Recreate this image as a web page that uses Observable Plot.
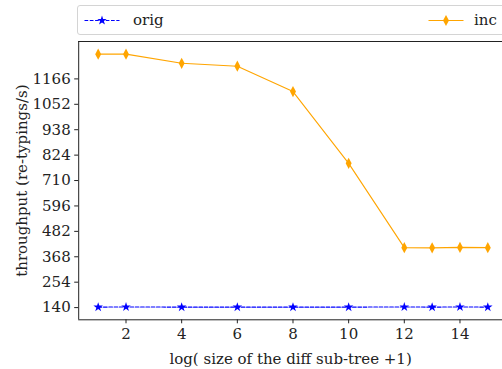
<!DOCTYPE html>
<html>
<head>
<meta charset="utf-8">
<script src="https://cdn.jsdelivr.net/npm/d3@7"></script>
<script src="https://cdn.jsdelivr.net/npm/@observablehq/plot@0.6"></script>
<style>
  html, body { margin: 0; padding: 0; background: #fff; overflow: hidden; }
  #chart { position: relative; width: 502px; height: 369px; overflow: hidden; }
  #chart > svg { position: absolute; left: 0; top: 0; }
  #chart svg text { font-family: "DejaVu Serif", serif !important; }
  .legend { position: absolute; left: 77px; top: 5px; width: 440px; height: 30px; box-sizing: border-box;
            border: 1px solid #d4d4d4; border-radius: 3px; background: #fff; }
  .legend .item { position: absolute; top: 0; height: 100%; }
  .legend .item svg { position: absolute; top: 0; left: 0; }
  .legend .item span { position: absolute; top: 5px; font-size: 15px; color: #222; white-space: nowrap; font-family: "DejaVu Serif", serif; }
</style>
</head>
<body>
<div id="chart"></div>
<script>
// x: log(size of the diff sub-tree + 1)
const sizes = [1, 2, 4, 6, 8, 10, 12, 13, 14, 15];
// throughput in re-typings per second
const origThroughput = [142, 143, 142, 142, 142, 142, 143, 142, 143, 142];
const incThroughput = [1277, 1277, 1236, 1223, 1109, 787, 409, 408, 410, 409];
const seriesNames = ["orig", "inc"];
const yTickValues = [140, 254, 368, 482, 596, 710, 824, 938, 1052, 1166];
const xTickValues = [2, 4, 6, 8, 10, 12, 14];

const blue = "#0000ff";
const orange = "#ffa500";

// thin diamond marker (taller than wide)
const thinDiamond = {
  draw(ctx, size) {
    const r = Math.sqrt(size / Math.PI);
    ctx.moveTo(0, -1.6 * r);
    ctx.lineTo(0.85 * r, 0);
    ctx.lineTo(0, 1.6 * r);
    ctx.lineTo(-0.85 * r, 0);
    ctx.closePath();
  }
};

const origRows = sizes.map((x, i) => ({x, y: origThroughput[i], series: seriesNames[0]}));
const incRows = sizes.map((x, i) => ({x, y: incThroughput[i], series: seriesNames[1]}));

// padded domains (5% each side of the data extent)
const xPad = (d3.max(sizes) - d3.min(sizes)) * 0.05;
const xDomain = [d3.min(sizes) - xPad, d3.max(sizes) + xPad];
const allY = origThroughput.concat(incThroughput);
const yPad = (d3.max(allY) - d3.min(allY)) * 0.05;
const yDomain = [d3.min(allY) - yPad, d3.max(allY) + yPad];

const chartW = 502, chartH = 369, frameLeft = 78.2, frameTop = 41, frameBottom = 319.3;
const frameRight = frameLeft + (xDomain[1] - xDomain[0]) * 27.83;

const plot = Plot.plot({
  width: chartW,
  height: chartH,
  marginLeft: frameLeft,
  marginTop: frameTop,
  marginBottom: chartH - frameBottom,
  marginRight: 0,
  style: {fontSize: "15px", color: "#222", background: "#fff"},
  x: {domain: xDomain, range: [frameLeft, frameRight]},
  y: {domain: yDomain},
  marks: [
    Plot.ruleY(yDomain, {stroke: "#222", strokeWidth: 1}),
    Plot.ruleX([xDomain[0]], {stroke: "#222", strokeWidth: 1}),
    Plot.axisY(yTickValues, {
      tickSize: 4, tickPadding: 4, fontSize: 15, tickFormat: d3.format("d"),
      label: "throughput (re-typings/s)", labelAnchor: "center", labelOffset: 62, labelArrow: "none"
    }),
    Plot.axisX(xTickValues, {
      tickSize: 4, tickPadding: 5, fontSize: 15, tickFormat: d3.format("d"),
      label: "log( size of the diff sub-tree +1)", labelAnchor: "center", labelOffset: 44, labelArrow: "none"
    }),
    Plot.line(origRows, {x: "x", y: "y", stroke: blue, strokeWidth: 1.1, strokeDasharray: "3.7,1.6"}),
    Plot.dot(origRows, {x: "x", y: "y", symbol: "star", r: 3, fill: blue, stroke: "none"}),
    Plot.line(incRows, {x: "x", y: "y", stroke: orange, strokeWidth: 1.1}),
    Plot.dot(incRows, {x: "x", y: "y", symbol: thinDiamond, r: 3.5, fill: orange, stroke: "none"})
  ]
});

const chart = document.getElementById("chart");
chart.appendChild(plot);

// legend across the top, two entries spread over the full width
const legend = d3.select(chart).append("div").attr("class", "legend");
const entries = [
  {name: seriesNames[0], color: blue, dash: "3.7,1.6", symbol: d3.symbolStar, size: Math.PI * 3 * 3, at: 6, gap: 49},
  {name: seriesNames[1], color: orange, dash: null, symbol: thinDiamond, size: Math.PI * 3.5 * 3.5, at: 350, gap: 46}
];
for (const e of entries) {
  const item = legend.append("div").attr("class", "item").style("left", e.at + "px");
  const s = item.append("svg").attr("width", 36).attr("height", 28);
  s.append("line").attr("x1", 0.5).attr("x2", 35.5).attr("y1", 14.5).attr("y2", 14.5)
    .attr("stroke", e.color).attr("stroke-width", 1.1).attr("stroke-dasharray", e.dash);
  s.append("path").attr("transform", "translate(18,14.5)")
    .attr("d", d3.symbol(e.symbol, e.size)()).attr("fill", e.color);
  item.append("span").style("left", e.gap + "px").text(e.name);
}
</script>
</body>
</html>
